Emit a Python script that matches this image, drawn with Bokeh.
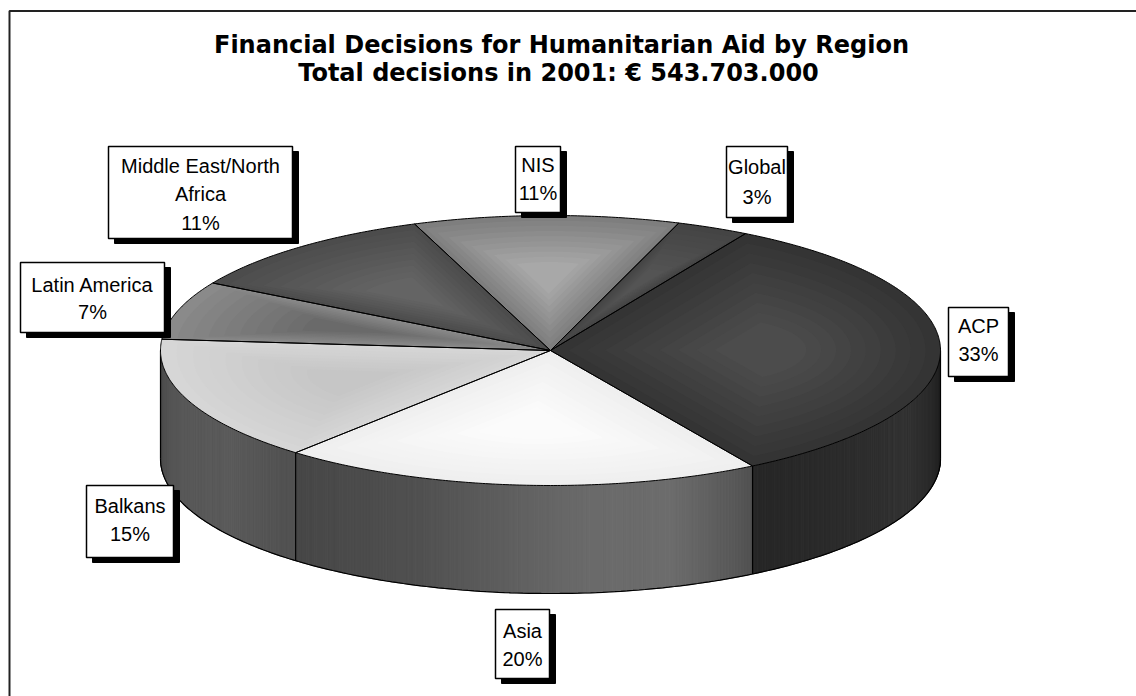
import numpy as np
from bokeh.plotting import figure
from bokeh.models import Range1d, ColumnDataSource
from bokeh.core.properties import value
from bokeh.embed import file_html
from bokeh.resources import INLINE

# ---------------- data ----------------
title_lines = ["Financial Decisions for Humanitarian Aid by Region",
               "Total decisions in 2001: \u20ac 543.703.000"]
regions = ["ACP", "Asia", "Balkans", "Latin America", "Middle East/North Africa", "NIS", "Global"]
label_text = [["ACP"], ["Asia"], ["Balkans"], ["Latin America"], ["Middle East/North", "Africa"], ["NIS"], ["Global"]]
shares = [33, 20, 15, 7, 11, 11, 3]

# ---------------- layout / style ----------------
W, H = 1136, 696
CX, CY, RX, RY, DEPTH = 550, 350, 390, 135, 108
START = 60.0  # degrees, slices run clockwise

top_edge = ["#343434", "#efefef", "#d6d6d6", "#8a8a8a", "#4c4c4c", "#7e7e7e", "#444444"]
top_mid = ["#4c4c4c", "#fbfbfb", "#c6c6c6", "#6a6a6a", "#646464", "#a8a8a8", "#545454"]
side_stops = {
    0: [(-58.8, 0x26), (-40, 0x2c), (-25, 0x32), (-10, 0x26), (0, 0x1a)],
    1: [(-130.8, 0x46), (-110, 0x50), (-85, 0x6a), (-72, 0x6c), (-62, 0x58), (-58.8, 0x50)],
    2: [(-180, 0x48), (-165, 0x56), (-145, 0x5a), (-130.8, 0x50)],
}
# label boxes: left, top, right, bottom ; first text line centre ; line step
label_box = [(948, 307, 1008, 376), (495, 609, 549, 678), (86, 485, 173, 557),
             (20, 262, 164, 332), (108, 146, 292, 238), (515, 146, 560, 212),
             (726, 146, 787, 217)]
label_y0 = [325, 630, 505, 284, 165, 164, 166]
label_step = [28, 28, 28, 27, 28.5, 28, 30]

p = figure(width=W, height=H, x_range=Range1d(0, W), y_range=Range1d(H, 0),
           min_border=0, toolbar_location=None, output_backend="svg")
p.axis.visible = False
p.grid.visible = False
p.outline_line_color = None
p.background_fill_color = "white"
p.border_fill_color = "white"

# frame
p.line([9, 9, W], [H, 10.5, 10.5], line_color="#222222", line_width=2)

def pt(t_deg, dy=0.0):
    t = np.radians(t_deg)
    return CX + RX * np.cos(t), CY - RY * np.sin(t) + dy

def hexgray(v):
    v = int(max(0, min(255, round(v))))
    return "#%02x%02x%02x" % (v, v, v)

def mix(c1, c2, f):
    a = int(c1[1:3], 16); b = int(c2[1:3], 16)
    return hexgray(a + (b - a) * f)

total = float(sum(shares))
bounds = []
a = START
for s in shares:
    b = a - 360.0 * s / total
    bounds.append((a, b))
    a = b

# ---- sides (front half only) ----
sx, sy, sc = [], [], []
for i, (a0, a1) in enumerate(bounds):
    if i not in side_stops:
        continue
    lo, hi = max(min(a0, a1), -180.0), min(max(a0, a1), 0.0)
    stops = side_stops[i]
    ts = np.arange(hi, lo, -0.5)
    ts = np.append(ts, lo)
    for t1, t2 in zip(ts[:-1], ts[1:]):
        x1, y1 = pt(t1); x2, y2 = pt(t2)
        sx.append([x1, x2, x2, x1])
        sy.append([y1, y2, y2 + DEPTH, y1 + DEPTH])
        tm = 0.5 * (t1 + t2)
        lv = np.interp(tm, [s[0] for s in stops], [s[1] for s in stops])
        sc.append(hexgray(lv))
p.patches(sx, sy, fill_color=sc, line_color=sc, line_width=1)

# side outlines
tb = np.linspace(-180, 0, 200)
bx, by = pt(tb, DEPTH)
p.line(list(bx), list(by), line_color="black", line_width=1.2)
for t in [-180.0, 0.0, bounds[0][1], bounds[1][1]]:
    x, y = pt(t)
    p.line([x, x], [y, y + DEPTH], line_color="black", line_width=1.2)

# ---- top faces with centre gradient ----
gx, gy, gc = [], [], []
ox, oy = [], []
NL = 10
for i, (a0, a1) in enumerate(bounds):
    ts = np.linspace(a0, a1, max(4, int(abs(a0 - a1) * 2)))
    ax_, ay_ = pt(ts)
    px = np.concatenate([[CX], ax_])
    py = np.concatenate([[CY], ay_])
    ox.append(list(px) + [CX]); oy.append(list(py) + [CY])
    mx, my = pt(0.5 * (a0 + a1))
    ccx, ccy = CX + 0.55 * (mx - CX), CY + 0.55 * (my - CY)
    for k in range(NL):
        s = 1.0 - k * 0.085
        gx.append(list(ccx + s * (px - ccx)))
        gy.append(list(ccy + s * (py - ccy)))
        gc.append(mix(top_edge[i], top_mid[i], k / (NL - 1)))
p.patches(gx, gy, fill_color=gc, line_color=None)
p.patches(ox, oy, fill_color=None, line_color="black", line_width=1)

# ---- labels ----
shadow = dict(left=[], right=[], top=[], bottom=[])
boxes = dict(left=[], right=[], top=[], bottom=[])
tx, ty, tt = [], [], []
for i, name in enumerate(regions):
    l, t, r, b = label_box[i]
    shadow["left"].append(l + 6); shadow["right"].append(r + 6)
    shadow["top"].append(t + 5); shadow["bottom"].append(b + 5)
    boxes["left"].append(l); boxes["right"].append(r)
    boxes["top"].append(t); boxes["bottom"].append(b)
    lines = label_text[i] + ["%d%%" % shares[i]]
    for j, ln in enumerate(lines):
        tx.append((l + r) / 2.0)
        ty.append(label_y0[i] + j * label_step[i])
        tt.append(ln)
p.quad(source=ColumnDataSource(shadow), left="left", right="right", top="top", bottom="bottom",
       fill_color="black", line_color="black")
p.quad(source=ColumnDataSource(boxes), left="left", right="right", top="top", bottom="bottom",
       fill_color="white", line_color="black", line_width=1.5)
p.text(x=tx, y=ty, text=tt, text_align="center", text_baseline="middle",
       text_font=value("Liberation Sans"), text_font_size=value("20px"), text_color="black")

# ---- title ----
p.text(x=[561, 558], y=[44, 72], text=title_lines, text_align="center", text_baseline="middle",
       text_font=value("DejaVu Sans"), text_font_style="bold", text_font_size=value("24px"),
       text_color="black")

open("out.html", "w").write(file_html(p, INLINE))
